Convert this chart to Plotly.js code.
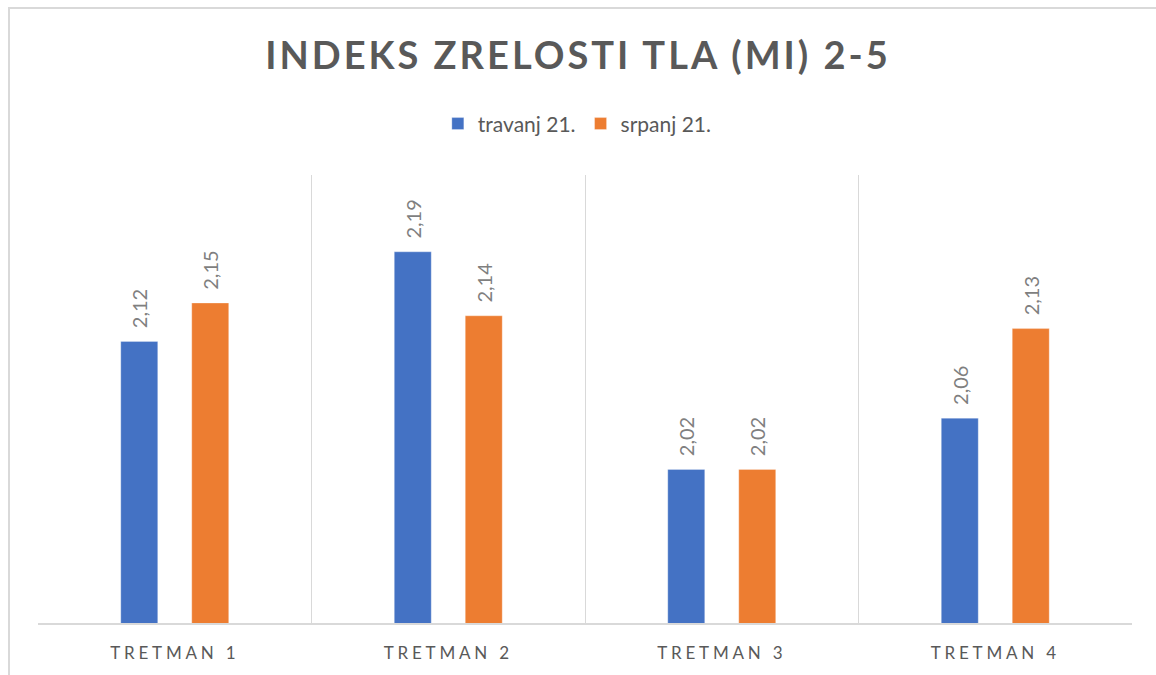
<!DOCTYPE html>
<html>
<head>
<meta charset="utf-8">
<script src="https://cdn.plot.ly/plotly-3.0.1.min.js"></script>
<style>
  html, body { margin: 0; padding: 0; background: #fff; }
  #chart { width: 1156px; height: 675px; }
  .gtitle { letter-spacing: 3px; }
  .xtick text { letter-spacing: 3.8px; }
</style>
</head>
<body>
<div id="chart"></div>
<script>
const categories = ['TRETMAN 1', 'TRETMAN 2', 'TRETMAN 3', 'TRETMAN 4'];
const seriesNames = ['travanj 21.', 'srpanj 21.'];
const travanj = [2.12, 2.19, 2.02, 2.06];
const srpanj = [2.15, 2.14, 2.02, 2.13];
const colors = ['#4472C4', '#ED7D31'];

const FONT = 'Lato, "Open Sans", sans-serif';
const pad = '\u00a0\u00a0';

function barTrace(name, values, color) {
  return {
    type: 'bar',
    name: name,
    x: categories,
    y: values,
    marker: { color: color, line: { color: 'rgba(255,255,255,0.6)', width: 0.5 } },
    texttemplate: pad + '%{y:.2f}',
    textposition: 'outside',
    textangle: -90,
    constraintext: 'none',
    cliponaxis: false,
    textfont: { family: FONT, size: 20, color: '#7F7F7F' },
    hoverinfo: 'x+y'
  };
}

const data = [
  barTrace(seriesNames[0], travanj, colors[0]),
  barTrace(seriesNames[1], srpanj, colors[1])
];

const layout = {
  width: 1156,
  height: 675,
  margin: { l: 38, r: 24, t: 175, b: 52 },
  paper_bgcolor: '#ffffff',
  plot_bgcolor: '#ffffff',
  separators: ',.',
  font: { family: FONT, color: '#595959' },
  title: {
    text: '<b>INDEKS ZRELOSTI TLA (MI) 2-5</b>',
    font: { family: FONT, size: 38, color: '#595959' },
    x: 0.5, xanchor: 'center',
    y: 0.917, yref: 'container', yanchor: 'middle'
  },
  showlegend: true,
  legend: {
    orientation: 'h',
    x: 0.493, xanchor: 'center',
    y: 1.114, yanchor: 'middle',
    font: { family: FONT, size: 21, color: '#595959' },
    itemwidth: 30,
    traceorder: 'normal'
  },
  bargap: 0.481,
  bargroupgap: 0.479,
  xaxis: {
    type: 'category',
    tickson: 'boundaries',
    showgrid: true,
    gridcolor: '#D9D9D9',
    gridwidth: 1,
    showline: true,
    linecolor: '#D9D9D9',
    linewidth: 1.5,
    mirror: false,
    ticks: '',
    ticklabelstandoff: 14,
    tickfont: { family: FONT, size: 17, color: '#595959' },
    zeroline: false
  },
  yaxis: {
    range: [1.9, 2.25],
    showgrid: false,
    showticklabels: false,
    showline: false,
    zeroline: false,
    ticks: ''
  },
  shapes: [
    {
      type: 'rect', xref: 'paper', yref: 'paper',
      x0: -0.0265, x1: 1.5, y0: -0.6, y1: 1.3728,
      line: { color: '#D9D9D9', width: 2 },
      fillcolor: 'rgba(0,0,0,0)',
      layer: 'below'
    }
  ]
};

Plotly.newPlot('chart', data, layout, { displayModeBar: false, staticPlot: true });
</script>
</body>
</html>
